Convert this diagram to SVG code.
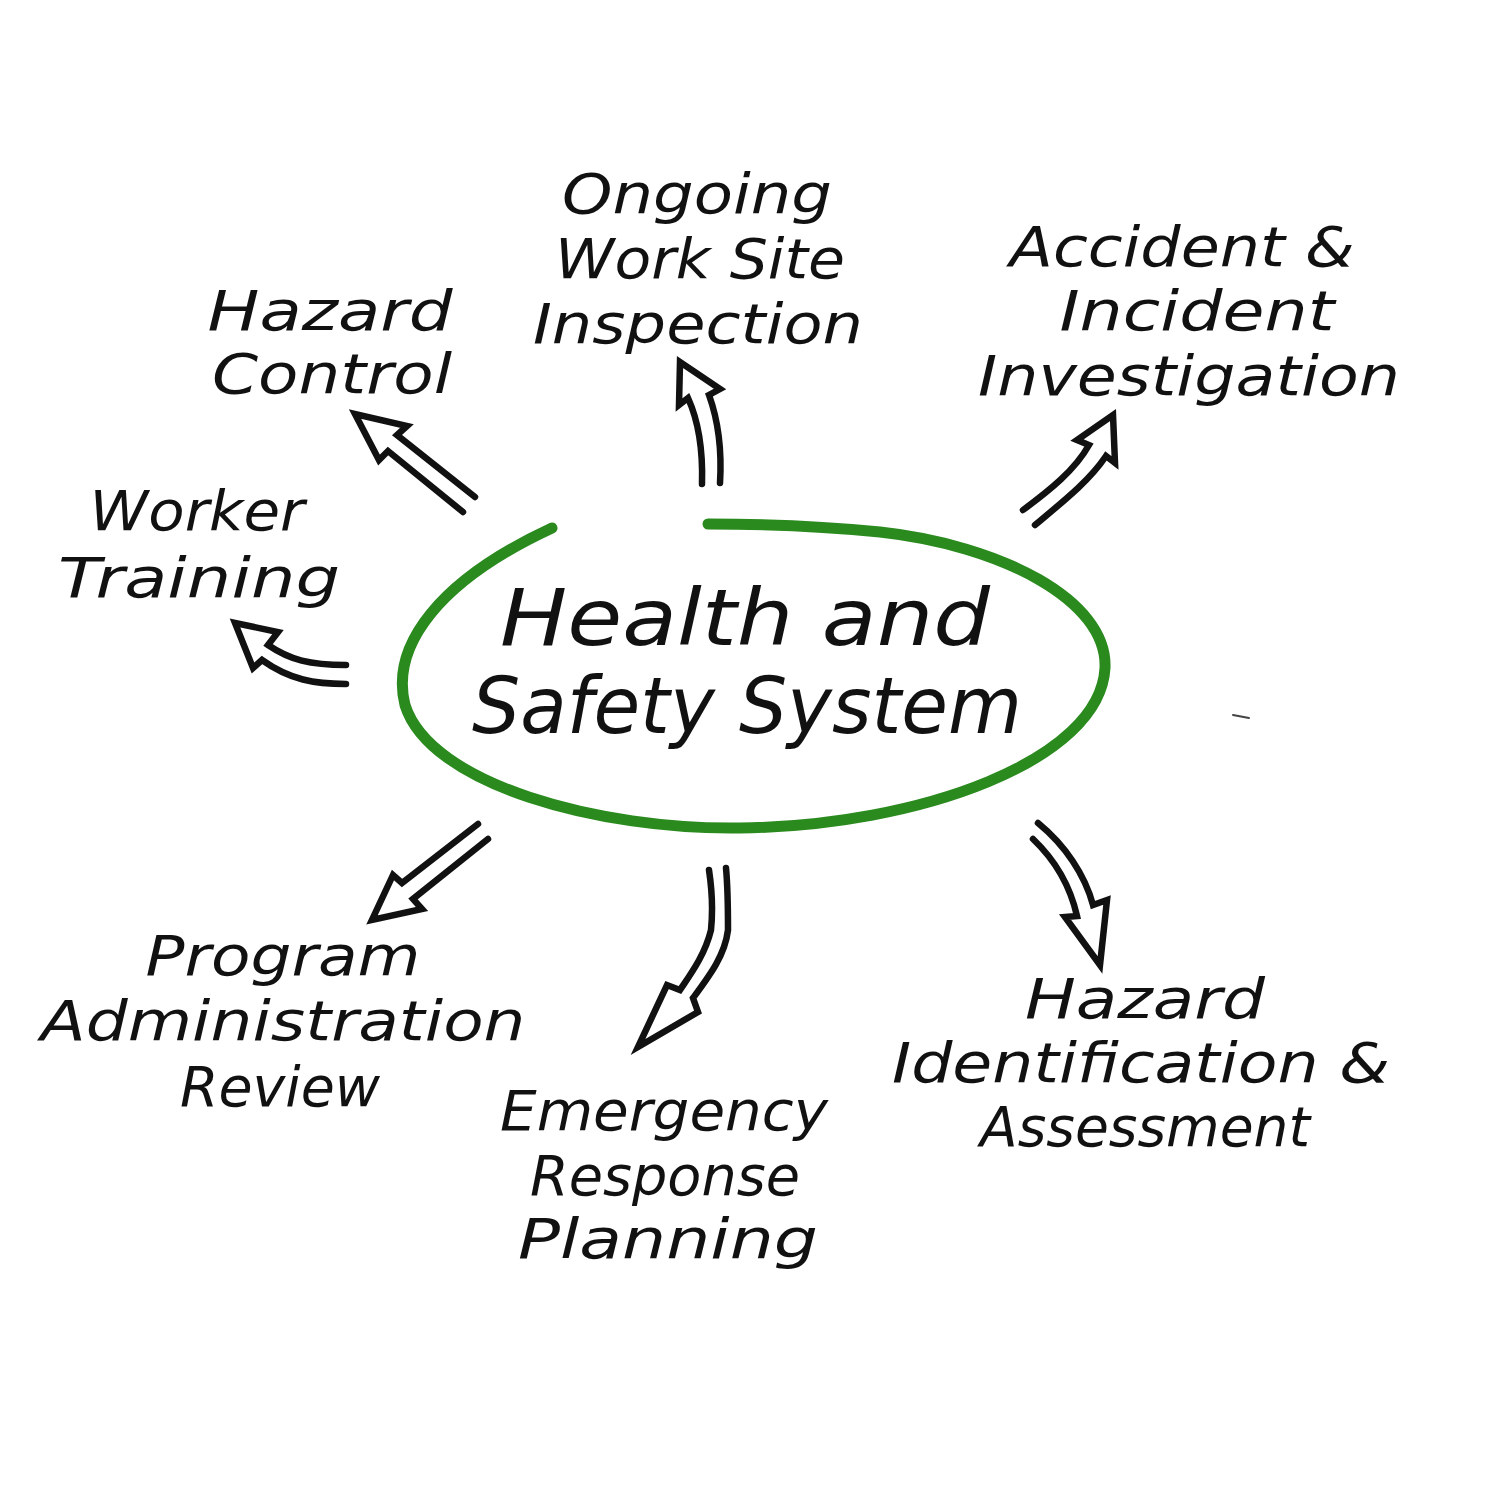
<svg xmlns="http://www.w3.org/2000/svg" width="1500" height="1500" viewBox="0 0 1500 1500">
<style>
.lbl{font-family:"DejaVu Sans","Liberation Sans",sans-serif;font-style:italic;font-size:56px;fill:#111;text-anchor:middle}
.ctr{font-family:"DejaVu Sans","Liberation Sans",sans-serif;font-style:italic;font-size:78px;fill:#111;text-anchor:middle}
.arr{fill:none;stroke:#111;stroke-width:6.5;stroke-linecap:round;stroke-linejoin:miter}
</style>
<rect width="1500" height="1500" fill="#fff"/>
<g id="center">
<path d="M 552 528 C 440 580, 390 645, 405 705 C 430 785, 600 830, 740 828 C 920 826, 1100 760, 1105 668 C 1108 600, 1000 545, 880 532 C 800 524, 740 524, 708 524" fill="none" stroke="#2a8a1e" stroke-width="11" stroke-linecap="round"/>
<text class="ctr" x="745" y="645" textLength="490" lengthAdjust="spacingAndGlyphs">Health and</text>
<text class="ctr" x="747" y="733" textLength="550" lengthAdjust="spacingAndGlyphs">Safety System</text>
</g>
<g id="ongoing">
<text class="lbl" x="697" y="213" textLength="270" lengthAdjust="spacingAndGlyphs">Ongoing</text>
<text class="lbl" x="700" y="278" textLength="290" lengthAdjust="spacingAndGlyphs">Work Site</text>
<text class="lbl" x="698" y="343" textLength="330" lengthAdjust="spacingAndGlyphs">Inspection</text>
</g>
<g id="hazard-control">
<text class="lbl" x="330" y="330" textLength="245" lengthAdjust="spacingAndGlyphs">Hazard</text>
<text class="lbl" x="332" y="393" textLength="240" lengthAdjust="spacingAndGlyphs">Control</text>
</g>
<g id="accident">
<text class="lbl" x="1182" y="266" textLength="345" lengthAdjust="spacingAndGlyphs">Accident  &amp;</text>
<text class="lbl" x="1197" y="330" textLength="275" lengthAdjust="spacingAndGlyphs">Incident</text>
<text class="lbl" x="1189" y="395" textLength="422" lengthAdjust="spacingAndGlyphs">Investigation</text>
</g>
<g id="worker-training">
<text class="lbl" x="197" y="530" textLength="215" lengthAdjust="spacingAndGlyphs">Worker</text>
<text class="lbl" x="199" y="597" textLength="282" lengthAdjust="spacingAndGlyphs">Training</text>
</g>
<g id="program">
<text class="lbl" x="283" y="975" textLength="275" lengthAdjust="spacingAndGlyphs">Program</text>
<text class="lbl" x="283" y="1040" textLength="485" lengthAdjust="spacingAndGlyphs">Administration</text>
<text class="lbl" x="280" y="1106" textLength="200" lengthAdjust="spacingAndGlyphs">Review</text>
</g>
<g id="emergency">
<text class="lbl" x="664" y="1130" textLength="328" lengthAdjust="spacingAndGlyphs">Emergency</text>
<text class="lbl" x="665" y="1195" textLength="270" lengthAdjust="spacingAndGlyphs">Response</text>
<text class="lbl" x="668" y="1258" textLength="300" lengthAdjust="spacingAndGlyphs">Planning</text>
</g>
<g id="hazard-identification">
<text class="lbl" x="1145" y="1018" textLength="240" lengthAdjust="spacingAndGlyphs">Hazard</text>
<text class="lbl" x="1141" y="1082" textLength="498" lengthAdjust="spacingAndGlyphs">Identification &amp;</text>
<text class="lbl" x="1145" y="1146" textLength="330" lengthAdjust="spacingAndGlyphs">Assessment</text>
</g>
<g id="connectors">
<path class="arr" d="M 475 497 L 397 435 L 407 426 L 355 414 L 379 460 L 388 451 L 463 512"/>
<path class="arr" d="M 346 665 C 310 665, 290 660, 268 645 L 278 632 L 235 623 L 253 668 L 262 660 C 290 680, 315 684, 346 684"/>
<path class="arr" d="M 720 483 C 722 450, 718 420, 709 395 L 720 389 L 680 362 L 679 405 L 688 398 C 698 420, 703 450, 702 484"/>
<path class="arr" d="M 1023 510 C 1050 490, 1075 470, 1089 445 L 1077 440 L 1113 415 L 1115 463 L 1106 456 C 1090 480, 1065 500, 1035 525"/>
<path class="arr" d="M 478 824 L 402 883 L 393 875 L 372 920 L 422 909 L 413 899 L 488 839"/>
<path class="arr" d="M 709 870 C 712 890, 713 910, 711 930 C 705 955, 690 975, 680 990 L 667 985 L 638 1047 L 698 1012 L 693 998 C 710 975, 725 955, 728 930 C 728 910, 728 890, 726 868"/>
<path class="arr" d="M 1038 823 C 1065 845, 1085 875, 1093 905 L 1107 900 L 1100 965 L 1065 917 L 1077 916 C 1070 885, 1055 860, 1033 839"/>
</g>
<path d="M 1233 715 L 1249 718" stroke="#444" stroke-width="2" stroke-linecap="round"/>
</svg>
